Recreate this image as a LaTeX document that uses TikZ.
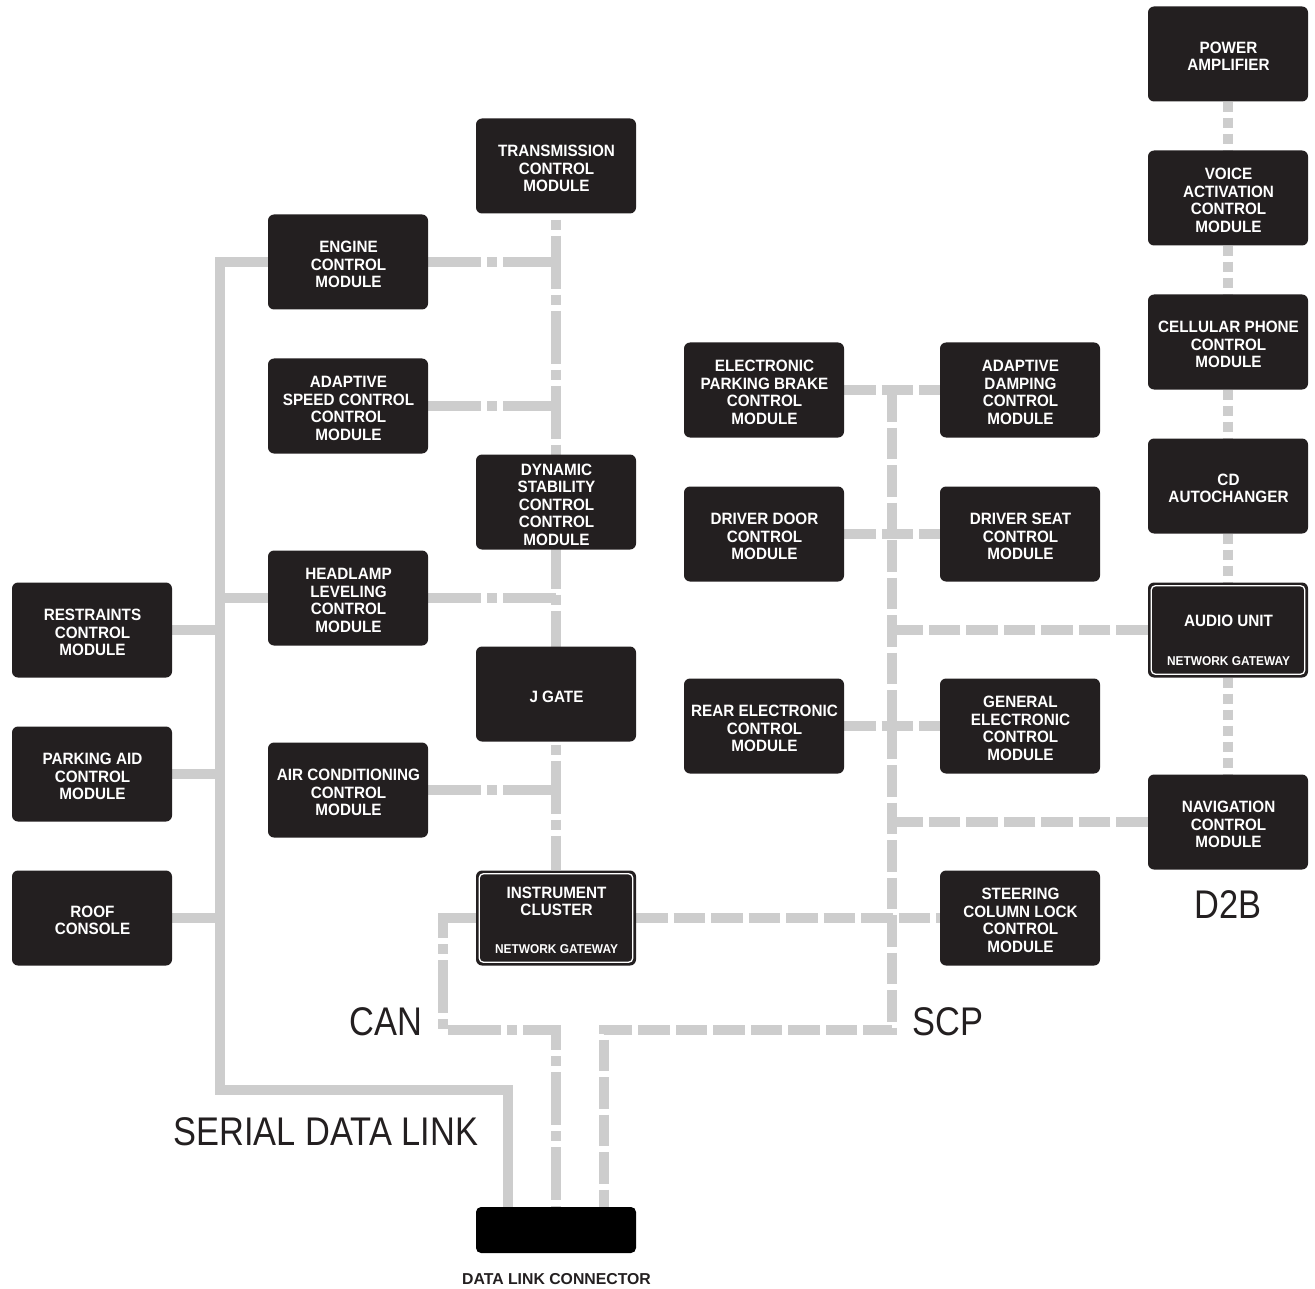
\documentclass[tikz,border=0pt]{standalone}
\usepackage{fontspec}
\setmainfont{Liberation Sans}
\newfontfamily\boxff[FakeStretch=0.93]{Liberation Sans}
\newfontfamily\labff[FakeStretch=0.86]{Liberation Sans}
\definecolor{boxc}{HTML}{231F20}
\definecolor{linec}{HTML}{CDCDCD}
\pgfdeclarelayer{bg}
\pgfsetlayers{bg,main}
\tikzset{
  box/.style={fill=boxc, draw=none, rounded corners=6pt, minimum width=160pt, minimum height=95pt, inner sep=0pt},
  boxtxt/.style={text=white, font=\boxff\bfseries\fontsize{16.4}{17.5}\selectfont, align=center, inner sep=0pt},
  gwtxt/.style={text=white, font=\boxff\bfseries\fontsize{12.8}{14}\selectfont, inner sep=0pt},
  gwframe/.style={draw=white, line width=1.3pt, rounded corners=4pt},
  lab/.style={text=boxc, font=\labff\fontsize{40}{44}\selectfont, inner sep=0pt},
  conn/.style={draw=linec, line width=10pt},
  sdl/.style={conn},
  can/.style={conn, dash pattern=on 53pt off 6pt on 10pt off 6pt},
  scp/.style={conn, dash pattern=on 31.5pt off 6pt},
  dtb/.style={conn, dash pattern=on 10pt off 6pt},
}
\newcommand\bx[4]{\node[box] (#1) at (#2,#3) {}; \node[boxtxt] (#1t) at (#2+0.5,#3+2.5) {#4};}
\begin{document}
\begin{tikzpicture}[x=1pt,y=-1pt]
\useasboundingbox (0,0) rectangle (1315,1289);
% D2B column
\bx{pa}{1228}{54}{POWER\\AMPLIFIER}
\bx{vac}{1228}{198}{VOICE\\ACTIVATION\\CONTROL\\MODULE}
\bx{cp}{1228}{342}{CELLULAR PHONE\\CONTROL\\MODULE}
\bx{cd}{1228}{486}{CD\\AUTOCHANGER}
\node[box] (au) at (1228,630) {};
\draw[gwframe] ([shift={(3.5,3.5)}]au.north west) rectangle ([shift={(-3.5,-3.5)}]au.south east);
\node[boxtxt] (aut) at (1228.5,621) {AUDIO UNIT};
\node[gwtxt] (aug) at (1228.5,661) {NETWORK GATEWAY};
\bx{nav}{1228}{822}{NAVIGATION\\CONTROL\\MODULE}
% left column
\bx{rcm}{92}{630}{RESTRAINTS\\CONTROL\\MODULE}
\bx{pam}{92}{774}{PARKING AID\\CONTROL\\MODULE}
\bx{roof}{92}{918}{ROOF\\CONSOLE}
% second column
\bx{ecm}{348}{262}{ENGINE\\CONTROL\\MODULE}
\bx{asc}{348}{406}{ADAPTIVE\\SPEED CONTROL\\CONTROL\\MODULE}
\bx{hlm}{348}{598}{HEADLAMP\\LEVELING\\CONTROL\\MODULE}
\bx{acm}{348}{790}{AIR CONDITIONING\\CONTROL\\MODULE}
% third column
\bx{tcm}{556}{166}{TRANSMISSION\\CONTROL\\MODULE}
\bx{dsc}{556}{502}{DYNAMIC\\STABILITY\\CONTROL\\CONTROL\\MODULE}
\bx{jg}{556}{694}{J GATE}
\node[box] (ic) at (556,918) {};
\draw[gwframe] ([shift={(3.5,3.5)}]ic.north west) rectangle ([shift={(-3.5,-3.5)}]ic.south east);
\node[boxtxt] (ict) at (556.5,901.5) {INSTRUMENT\\CLUSTER};
\node[gwtxt] (icg) at (556.5,949) {NETWORK GATEWAY};
\node[fill=black, draw=none, rounded corners=5pt, minimum width=160pt, minimum height=46pt, inner sep=0pt] (dlc) at (556,1230) {};
\node[text=boxc, font=\bfseries\fontsize{15.8}{18}\selectfont, inner sep=0pt] (dlct) at (556.5,1279) {DATA LINK CONNECTOR};
% fourth column
\bx{epb}{764}{390}{ELECTRONIC\\PARKING BRAKE\\CONTROL\\MODULE}
\bx{ddm}{764}{534}{DRIVER DOOR\\CONTROL\\MODULE}
\bx{rem}{764}{726}{REAR ELECTRONIC\\CONTROL\\MODULE}
% fifth column
\bx{adm}{1020}{390}{ADAPTIVE\\DAMPING\\CONTROL\\MODULE}
\bx{dsm}{1020}{534}{DRIVER SEAT\\CONTROL\\MODULE}
\bx{gem}{1020}{726}{GENERAL\\ELECTRONIC\\CONTROL\\MODULE}
\bx{scl}{1020}{918}{STEERING\\COLUMN LOCK\\CONTROL\\MODULE}
% labels
\node[lab] (sdlt) at (326,1132) {SERIAL DATA LINK};
\node[lab] (cant) at (386,1022) {CAN};
\node[lab] (scpt) at (948,1022) {SCP};
\node[lab] (d2bt) at (1228,905) {D2B};
% connectors
\begin{pgfonlayer}{bg}
  % serial data link
  \coordinate (s1) at (220,262);
  \coordinate (s2) at (220,1090);
  \coordinate (s3) at (508,1090);
  \draw[sdl, line join=miter] (ecm.west) -- (s1) -- (s2) -- (s3) -- ([xshift=-48pt]dlc.north);
  \draw[sdl] (hlm.west) -- (hlm.west -| s1);
  \draw[sdl] (rcm.east) -- (rcm.east -| s1);
  \draw[sdl] (pam.east) -- (pam.east -| s1);
  \draw[sdl] (roof.east) -- (roof.east -| s1);
  % CAN
  \draw[can, dash phase=53pt] (tcm.south) -- (ic.north);
  \draw[can] (ecm.east) -- (ecm.east -| tcm.south);
  \draw[can] (asc.east) -- (asc.east -| tcm.south);
  \draw[can] (hlm.east) -- (hlm.east -| tcm.south);
  \draw[can] (acm.east) -- (acm.east -| tcm.south);
  \coordinate (c1) at (443,1030);
  \coordinate (c2) at (556,1030);
  \draw[can] (ic.west) -| (c1) -- (c2) -- (dlc.north);
  % SCP
  \coordinate (p1) at (892,390);
  \coordinate (p2) at (892,1030);
  \coordinate (p3) at (604,1030);
  \draw[scp] (p1) -- (p2) -- (p3) -- ([xshift=48pt]dlc.north);
  \draw[scp] (epb.east) -- (adm.west);
  \draw[scp] (ddm.east) -- (dsm.west);
  \draw[scp] (rem.east) -- (gem.west);
  \draw[scp] (ic.east) -- (scl.west);
  \draw[scp] (au.west) -- (au.west -| p1);
  \draw[scp] (nav.west) -- (nav.west -| p1);
  % D2B
  \draw[dtb] (pa.south) -- (nav.north);
\end{pgfonlayer}
\end{tikzpicture}
\end{document}
